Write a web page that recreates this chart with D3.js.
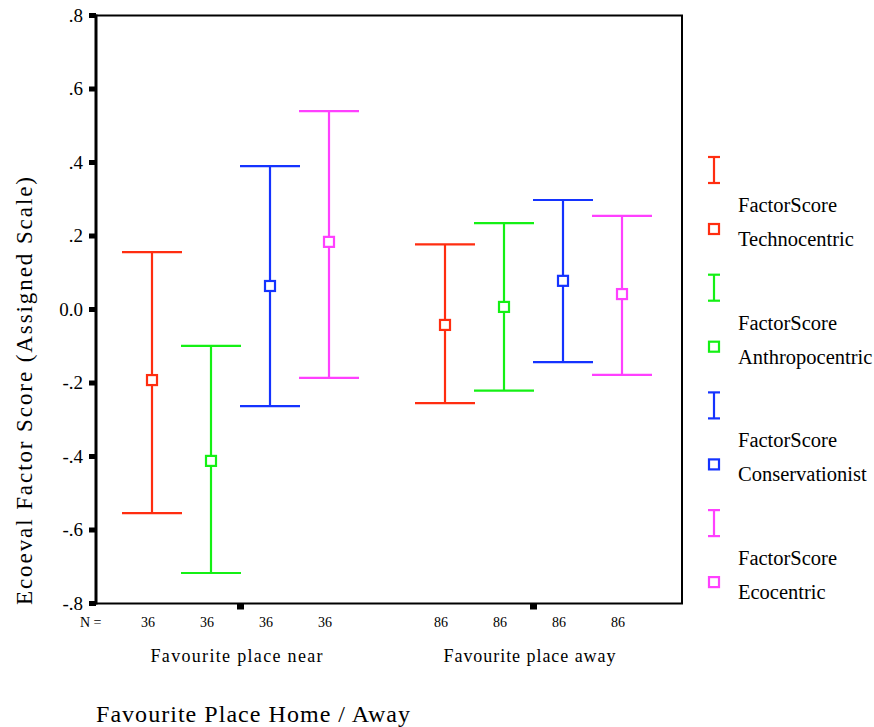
<!DOCTYPE html>
<html>
<head>
<meta charset="utf-8">
<script src="https://cdn.jsdelivr.net/npm/d3@7"></script>
<style>
	body { margin: 0; background: #fff; }
	svg text { font-family: "Liberation Serif", "DejaVu Serif", serif; fill: #000; }
</style>
</head>
<body>
<svg id="chart" width="874" height="727"></svg>
<script>
// data
var categories = ["Favourite place near", "Favourite place away"];
var seriesNames = ["Technocentric", "Anthropocentric", "Conservationist", "Ecocentric"];
var seriesColors = ["#ff2d10", "#14f014", "#1433ff", "#ff40ff"];
var nCounts = [[36, 36, 36, 36], [86, 86, 86, 86]];
var means = [[-0.192, -0.412, 0.064, 0.184], [-0.042, 0.007, 0.078, 0.042]];
var lower = [[-0.554, -0.717, -0.263, -0.186], [-0.255, -0.221, -0.143, -0.178]];
var upper = [[0.156, -0.099, 0.390, 0.540], [0.177, 0.235, 0.298, 0.255]];
var yTicks = [0.8, 0.6, 0.4, 0.2, 0, -0.2, -0.4, -0.6, -0.8];
var yTickLabels = [".8", ".6", ".4", ".2", "0.0", "-.2", "-.4", "-.6", "-.8"];

var svg = d3.select("#chart");

var plotL = 96, plotR = 682, plotT = 15.5, plotB = 603.5;

var y = d3.scaleLinear().domain([-0.8, 0.8]).range([plotB, plotT]);
var x = d3.scaleBand().domain(categories).range([94, 680]);
var xs = d3.scaleBand().domain(seriesNames).range([-118, 118]);

// frame
svg.append("rect")
	.attr("x", plotL).attr("y", plotT)
	.attr("width", plotR - plotL).attr("height", plotB - plotT)
	.attr("fill", "none").attr("stroke", "#000").attr("stroke-width", 2);
svg.append("line")
	.attr("x1", plotL).attr("x2", plotL).attr("y1", plotT - 1).attr("y2", plotB + 1)
	.attr("stroke", "#000").attr("stroke-width", 3);

// y ticks
yTicks.forEach(function(t, i) {
	svg.append("rect")
		.attr("x", plotL - 7).attr("y", y(t) - 2.5)
		.attr("width", 7).attr("height", 5).attr("fill", "#000");
	svg.append("text")
		.attr("x", 83).attr("y", y(t) + 6)
		.attr("text-anchor", "end")
		.attr("font-size", 19)
		.text(yTickLabels[i]);
});

// x ticks (category centres)
categories.forEach(function(c) {
	var cx = x(c) + x.bandwidth() / 2;
	svg.append("rect")
		.attr("x", cx - 3.5).attr("y", plotB)
		.attr("width", 7).attr("height", 6).attr("fill", "#000");
	svg.append("text")
		.attr("x", cx - 4).attr("y", 662)
		.attr("text-anchor", "middle")
		.attr("font-size", 18)
		.attr("textLength", 172)
		.attr("lengthAdjust", "spacing")
		.text(c);
});

// N = labels
svg.append("text")
	.attr("x", 80).attr("y", 627)
	.attr("font-size", 14)
	.text("N =");

var capHalf = 30;

categories.forEach(function(c, ci) {
	var cx = x(c) + x.bandwidth() / 2;
	seriesNames.forEach(function(s, si) {
		var px = cx + xs(s) + xs.bandwidth() / 2;
		var col = seriesColors[si];
		var g = svg.append("g").attr("stroke", col).attr("stroke-width", 2.2).attr("fill", "none");
		g.append("line").attr("x1", px).attr("x2", px).attr("y1", y(upper[ci][si])).attr("y2", y(lower[ci][si]));
		g.append("line").attr("x1", px - capHalf).attr("x2", px + capHalf).attr("y1", y(upper[ci][si])).attr("y2", y(upper[ci][si]));
		g.append("line").attr("x1", px - capHalf).attr("x2", px + capHalf).attr("y1", y(lower[ci][si])).attr("y2", y(lower[ci][si]));
		g.append("rect")
			.attr("x", px - 5).attr("y", y(means[ci][si]) - 5)
			.attr("width", 10).attr("height", 10)
			.attr("fill", "#fff").attr("stroke-width", 2.2);

		svg.append("text")
			.attr("x", px - 4).attr("y", 627)
			.attr("text-anchor", "middle")
			.attr("font-size", 14)
			.text(nCounts[ci][si]);
	});
});

// legend
seriesNames.forEach(function(s, si) {
	var y0 = 157 + si * 117.7;
	var col = seriesColors[si];
	var g = svg.append("g").attr("stroke", col).attr("stroke-width", 2.2).attr("fill", "none");
	g.append("line").attr("x1", 714).attr("x2", 714).attr("y1", y0).attr("y2", y0 + 26);
	g.append("line").attr("x1", 708).attr("x2", 720).attr("y1", y0).attr("y2", y0);
	g.append("line").attr("x1", 708).attr("x2", 720).attr("y1", y0 + 26).attr("y2", y0 + 26);
	g.append("rect").attr("x", 709).attr("y", y0 + 67).attr("width", 10).attr("height", 10);

	svg.append("text").attr("x", 738).attr("y", y0 + 55).attr("font-size", 20.5).text("FactorScore");
	svg.append("text").attr("x", 738).attr("y", y0 + 89).attr("font-size", 20.5).text(s);
});

// axis titles
svg.append("text")
	.attr("transform", "translate(32,391) rotate(-90)")
	.attr("text-anchor", "middle")
	.attr("font-size", 23)
	.attr("textLength", 428)
	.attr("lengthAdjust", "spacing")
	.text("Ecoeval Factor Score (Assigned Scale)");

svg.append("text")
	.attr("x", 96).attr("y", 722)
	.attr("font-size", 24)
	.attr("textLength", 314)
	.attr("lengthAdjust", "spacing")
	.text("Favourite Place Home / Away");
</script>
</body>
</html>
